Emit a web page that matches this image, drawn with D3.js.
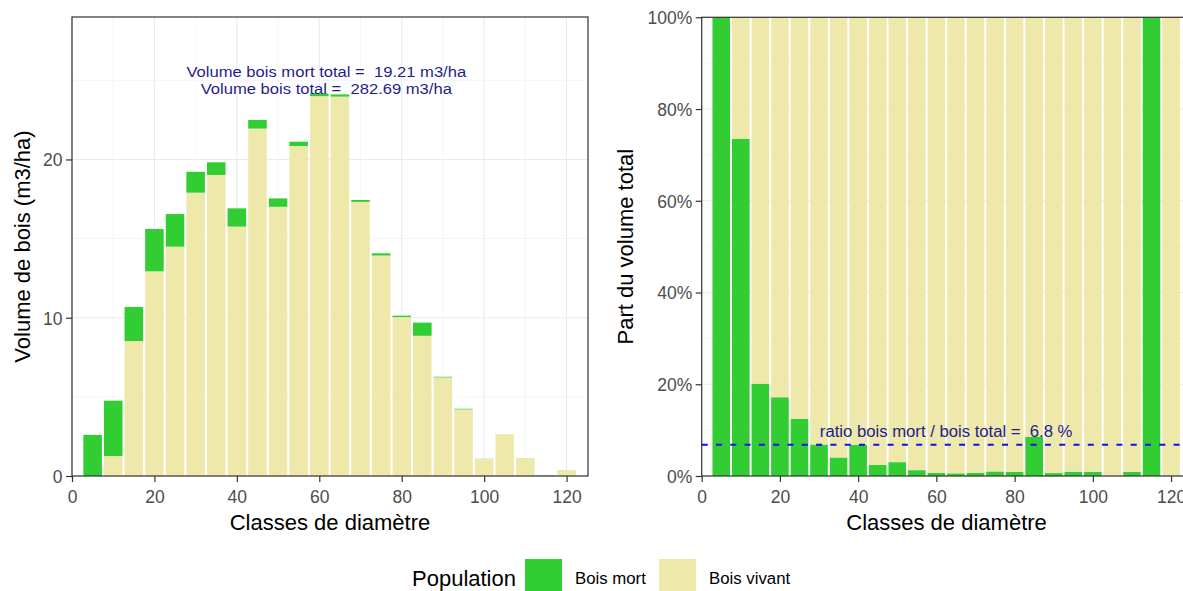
<!DOCTYPE html>
<html>
<head>
<meta charset="utf-8">
<script src="https://cdn.jsdelivr.net/npm/d3@7"></script>
<style>
  body { margin: 0; background: #ffffff; }
  svg { display: block; font-family: "Liberation Sans", Arial, Helvetica, sans-serif; }
</style>
</head>
<body>
<svg id="chart" width="1183" height="591"></svg>
<script>
// Diameter classes (cm) and wood volume per class (m3/ha)
const classes = [5, 10, 15, 20, 25, 30, 35, 40, 45, 50, 55, 60, 65, 70, 75, 80, 85, 90, 95, 100, 105, 110, 115, 120];
const boisVivant = [0, 1.26, 8.53, 12.93, 14.49, 17.9, 19.02, 15.76, 21.95, 17.01, 20.85, 24.0, 23.97, 17.32, 13.93, 10.04, 8.86, 6.23, 4.21, 1.08, 2.65, 1.11, 0, 0.38];
const boisMort = [2.6, 3.5, 2.15, 2.68, 2.06, 1.32, 0.8, 1.15, 0.54, 0.53, 0.27, 0.17, 0.14, 0.12, 0.14, 0.09, 0.83, 0.04, 0.04, 0.01, 0, 0.01, 0.02, 0];

const populations = ["Bois mort", "Bois vivant"];
const popColors = ["#32CD32", "#EEE8AA"];

const xTicks = [0, 20, 40, 60, 80, 100, 120];
const xMinor = [10, 30, 50, 70, 90, 110];
const yTicksVolume = [0, 10, 20];
const yMinorVolume = [5, 15, 25];
const yTicksPart = [0, 0.2, 0.4, 0.6, 0.8, 1];
const yMinorPart = [0.1, 0.3, 0.5, 0.7, 0.9];

const rows = classes.map((c, i) => ({ classe: c, mort: boisMort[i], vivant: boisVivant[i] }));
const totalMort = d3.sum(boisMort);
const totalVol = d3.sum(boisMort) + d3.sum(boisVivant);
const ratio = totalMort / totalVol;

const svg = d3.select("#chart");
const colorOf = { mort: popColors[0], vivant: popColors[1] };
const barWidth = 4.5;
const tickFont = 17.5;
const tickColor = "#4D4D4D";
const gridColor = "#EBEBEB";
const borderColor = "#333333";
const noteColor = "#1E1E8C";

function drawPanel(cfg) {
  const x = d3.scaleLinear().domain([0, 125.2]).range([cfg.left, cfg.right]);
  const y = d3.scaleLinear().domain(cfg.yDomain).range([cfg.bottom, cfg.top]);
  const g = svg.append("g");

  // grid
  const grid = g.append("g");
  grid.selectAll(".xminor").data(xMinor).join("line")
    .attr("x1", d => x(d)).attr("x2", d => x(d)).attr("y1", cfg.top).attr("y2", cfg.bottom)
    .attr("stroke", "#F0F0F0").attr("stroke-width", 0.7);
  grid.selectAll(".yminor").data(cfg.yMinor).join("line")
    .attr("x1", cfg.left).attr("x2", cfg.right).attr("y1", d => y(d)).attr("y2", d => y(d))
    .attr("stroke", "#F0F0F0").attr("stroke-width", 0.7);
  grid.selectAll(".xmajor").data(xTicks).join("line")
    .attr("x1", d => x(d)).attr("x2", d => x(d)).attr("y1", cfg.top).attr("y2", cfg.bottom)
    .attr("stroke", gridColor).attr("stroke-width", 1.1);
  grid.selectAll(".ymajor").data(cfg.yTicks).join("line")
    .attr("x1", cfg.left).attr("x2", cfg.right).attr("y1", d => y(d)).attr("y2", d => y(d))
    .attr("stroke", gridColor).attr("stroke-width", 1.1);

  // stacked bars
  let stack = d3.stack().keys(cfg.keys);
  if (cfg.expand) stack = stack.offset(d3.stackOffsetExpand);
  const series = stack(rows);
  g.append("g").selectAll("g").data(series).join("g")
    .attr("fill", s => colorOf[s.key])
    .selectAll("rect").data(s => s).join("rect")
    .attr("x", d => x(d.data.classe - barWidth / 2))
    .attr("width", x(barWidth) - x(0))
    .attr("y", d => y(d[1]))
    .attr("height", d => Math.max(0, y(d[0]) - y(d[1])));

  // axes
  const ax = g.append("g").attr("transform", `translate(0,${cfg.bottom})`)
    .call(d3.axisBottom(x).tickValues(xTicks).tickSize(6).tickPadding(8.5).tickFormat(d3.format("d")));
  const ay = g.append("g").attr("transform", `translate(${cfg.left},0)`)
    .call(d3.axisLeft(y).tickValues(cfg.yTicks).tickSize(6).tickPadding(3.5).tickFormat(cfg.yFormat));
  [ax, ay].forEach(a => {
    a.select(".domain").remove();
    a.selectAll(".tick line").attr("stroke", borderColor).attr("stroke-width", 1.2);
    a.selectAll(".tick text").attr("fill", tickColor).attr("font-size", tickFont)
      .attr("font-family", '"Liberation Sans", Arial, sans-serif');
  });
  ay.selectAll(".tick text").attr("dy", "0.36em");

  // panel border
  g.append("rect")
    .attr("x", cfg.left).attr("y", cfg.top)
    .attr("width", cfg.right - cfg.left).attr("height", cfg.bottom - cfg.top)
    .attr("fill", "none").attr("stroke", borderColor).attr("stroke-width", 1.2);

  // axis titles
  g.append("text")
    .attr("x", (cfg.left + cfg.right) / 2).attr("y", 530)
    .attr("text-anchor", "middle").attr("font-size", 22).attr("fill", "#000")
    .text("Classes de diamètre");
  g.append("text")
    .attr("transform", `translate(${cfg.yTitleX},${(cfg.top + cfg.bottom) / 2}) rotate(-90)`)
    .attr("text-anchor", "middle").attr("font-size", 22).attr("fill", "#000")
    .text(cfg.yTitle);

  return { x, y, g };
}

// left: stacked volume per class
const p1 = drawPanel({
  left: 72, right: 588, top: 17, bottom: 476,
  yDomain: [0, 29], yTicks: yTicksVolume, yMinor: yMinorVolume, yFormat: d3.format("d"),
  keys: ["vivant", "mort"], expand: false,
  yTitle: "Volume de bois (m3/ha)", yTitleX: 30
});

// two-line totals note, slightly widened type
const note = p1.g.append("text")
  .attr("transform", `translate(${p1.x(61.7)},${p1.y(25.0) - 3}) scale(1.07,1)`)
  .attr("text-anchor", "middle").attr("font-size", 15.5).attr("fill", noteColor)
  .style("white-space", "pre");
note.append("tspan").attr("x", 0).attr("dy", 0)
  .text(`Volume bois mort total =  ${totalMort.toFixed(2)} m3/ha`);
note.append("tspan").attr("x", 0).attr("dy", 16.5)
  .text(`Volume bois total =  ${totalVol.toFixed(2)} m3/ha`);

// right: share of dead wood per class
const p2 = drawPanel({
  left: 701.7, right: 1191.4, top: 17.3, bottom: 476,
  yDomain: [0, 1], yTicks: yTicksPart, yMinor: yMinorPart, yFormat: d3.format(".0%"),
  keys: ["mort", "vivant"], expand: true,
  yTitle: "Part du volume total", yTitleX: 633
});

p2.g.append("line")
  .attr("x1", 701.7).attr("x2", 1191.4)
  .attr("y1", p2.y(ratio)).attr("y2", p2.y(ratio))
  .attr("stroke", "#1010E6").attr("stroke-width", 2)
  .attr("stroke-dasharray", "6,8.3");
p2.g.append("text")
  .attr("transform", `translate(${p2.x(62.5)},${p2.y(ratio) - 8}) scale(1.07,1)`)
  .attr("text-anchor", "middle").attr("font-size", 15.6).attr("fill", noteColor)
  .style("white-space", "pre")
  .text(`ratio bois mort / bois total =  ${(ratio * 100).toFixed(1)} %`);

// legend
const legend = svg.append("g");
legend.append("text").attr("x", 412).attr("y", 586)
  .attr("font-size", 22).attr("fill", "#000").text("Population");
const keyX = [525, 659];
legend.selectAll("rect.key").data(populations).join("rect")
  .attr("class", "key")
  .attr("x", (d, i) => keyX[i]).attr("y", 559)
  .attr("width", 37).attr("height", 37)
  .attr("fill", (d, i) => popColors[i]);
legend.selectAll("text.lab").data(populations).join("text")
  .attr("class", "lab")
  .attr("x", (d, i) => keyX[i] + 50).attr("y", 584)
  .attr("font-size", 16.8).attr("fill", "#000")
  .text(d => d);
</script>
</body>
</html>
